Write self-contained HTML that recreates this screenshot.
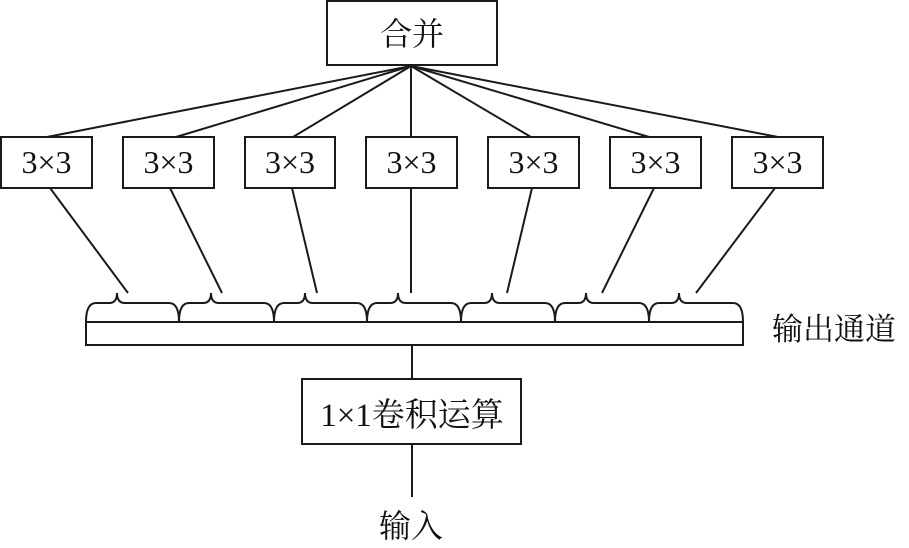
<!DOCTYPE html>
<html><head><meta charset="utf-8"><style>
html,body{margin:0;padding:0;background:#fff;}
svg{display:block;}
text{font-family:"Liberation Serif","Noto Serif CJK SC","Noto Sans CJK SC",serif;fill:#111;}
</style></head><body>
<svg width="909" height="548" viewBox="0 0 909 548" xmlns="http://www.w3.org/2000/svg">
<g stroke="#1a1a1a" stroke-width="2" fill="none">
<!-- top box -->
<rect x="327" y="1" width="170" height="64"/>
<!-- fan lines -->
<line x1="411" y1="66" x2="47" y2="137"/>
<line x1="411" y1="66" x2="176" y2="137"/>
<line x1="411" y1="66" x2="293" y2="137"/>
<line x1="411" y1="66" x2="411" y2="137"/>
<line x1="411" y1="66" x2="531" y2="137"/>
<line x1="411" y1="66" x2="649" y2="137"/>
<line x1="411" y1="66" x2="778" y2="137"/>
<!-- 3x3 boxes -->
<rect x="1" y="137" width="91" height="51"/>
<rect x="123" y="137" width="91" height="51"/>
<rect x="245" y="137" width="90" height="51"/>
<rect x="366" y="137" width="91" height="51"/>
<rect x="488" y="137" width="91" height="51"/>
<rect x="610" y="137" width="91" height="51"/>
<rect x="732" y="137" width="91" height="51"/>
<!-- lines down to braces -->
<line x1="50" y1="188" x2="128" y2="293"/>
<line x1="170" y1="188" x2="222" y2="293"/>
<line x1="292" y1="188" x2="317" y2="293"/>
<line x1="411" y1="188" x2="411" y2="293"/>
<line x1="532" y1="188" x2="507" y2="293"/>
<line x1="654" y1="188" x2="602" y2="293"/>
<line x1="775" y1="188" x2="696" y2="293"/>
<!-- bar -->
<rect x="86" y="322" width="657" height="23"/>
<!-- braces -->
<path d="M86,322 Q86,303 96,303 L109,303 C114,303 117,300 117,293 C117,300 120,303 125,303 L169,303 Q179,303 179,322"/>
<path d="M179,322 Q179,303 189,303 L203,303 C208,303 211,300 211,293 C211,300 214,303 219,303 L264,303 Q274,303 274,322"/>
<path d="M274,322 Q274,303 284,303 L297,303 C302,303 305,300 305,293 C305,300 308,303 313,303 L357,303 Q367,303 367,322"/>
<path d="M367,322 Q367,303 377,303 L390,303 C395,303 398,300 398,293 C398,300 401,303 406,303 L451,303 Q461,303 461,322"/>
<path d="M461,322 Q461,303 471,303 L484,303 C489,303 492,300 492,293 C492,300 495,303 500,303 L545,303 Q555,303 555,322"/>
<path d="M555,322 Q555,303 565,303 L578,303 C583,303 586,300 586,293 C586,300 589,303 594,303 L639,303 Q649,303 649,322"/>
<path d="M649,322 Q649,303 659,303 L671,303 C676,303 679,300 679,293 C679,300 682,303 687,303 L733,303 Q743,303 743,322"/>
<!-- vertical to 1x1 box -->
<line x1="412" y1="345" x2="412" y2="379"/>
<rect x="302" y="379" width="219" height="65"/>
<line x1="412" y1="444" x2="412" y2="497"/>
</g>
<g font-size="32" text-anchor="middle">
<text x="412" y="45">合并</text>
<text x="46.5" y="173">3×3</text>
<text x="168.5" y="173">3×3</text>
<text x="290" y="173">3×3</text>
<text x="411.5" y="173">3×3</text>
<text x="533.5" y="173">3×3</text>
<text x="655.5" y="173">3×3</text>
<text x="777.5" y="173">3×3</text>
<text x="412" y="426" font-size="33">1×1卷积运算</text>
<text x="411" y="537">输入</text>
</g>
<text x="772" y="340" font-size="31">输出通道</text>
</svg>
</body></html>
